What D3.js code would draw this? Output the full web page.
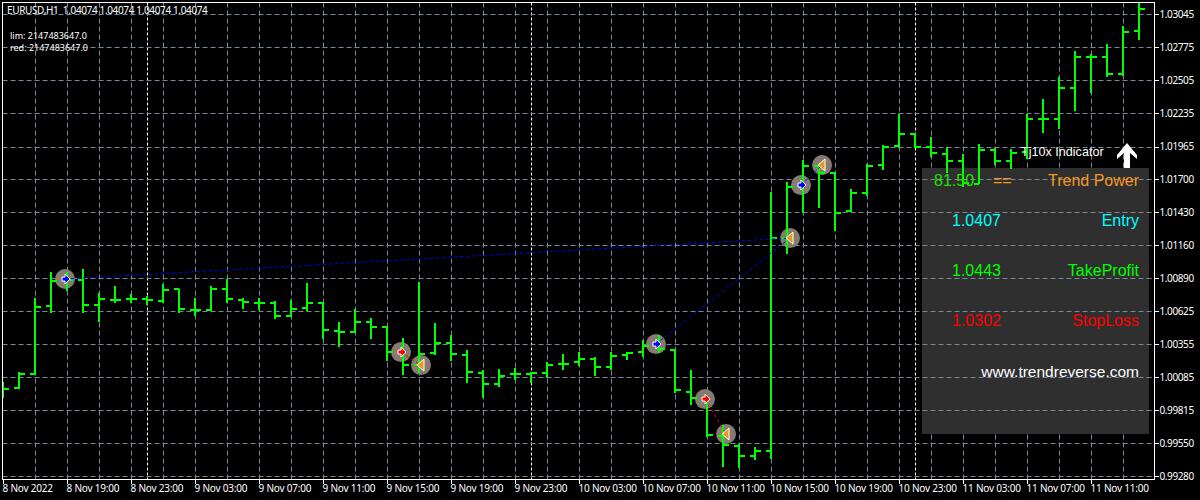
<!DOCTYPE html>
<html>
<head>
<meta charset="utf-8">
<script src="https://cdn.jsdelivr.net/npm/d3@7"></script>
<style>
  html, body { margin: 0; padding: 0; background: #000; }
  svg { display: block; }
  text { font-family: 'Noto Sans', sans-serif; font-size: 10px; fill: #fff; }
  .panel-text { font-family: 'Liberation Sans', Arial, sans-serif; font-size: 16px; }
</style>
</head>
<body>
<div id="chart"></div>
<script>
const opens = [0.99997,0.99997,1.00111,1.00665,1.00877,1.00877,1.00673,1.00714,1.00722,1.00722,1.00706,1.00804,1.00632,1.00632,1.00804,1.00714,1.0069,1.0069,1.00584,1.00649,1.0069,1.00461,1.00453,1.00535,1.00494,1.0029,1.00184,1.00282,1.00364,1.00266,1.00119,1.00029,1.00111,1.00111,1.00119,1.00192,1.00209,1.00233,1.00168,1.00266,1.0029,1.00347,1.00306,0.99964,0.99907,0.99606,0.99524,0.99443,0.99483,1.01219,1.01635,1.01806,1.01749,1.01439,1.01586,1.01814,1.01969,1.02067,1.01961,1.01904,1.01847,1.01659,1.01936,1.01847,1.0192,1.02189,1.02189,1.02442,1.02694,1.02694,1.02556,1.02906];
const highs = [1.00046,1.00127,1.0073,1.00942,1.00942,1.00967,1.00771,1.00828,1.00763,1.00747,1.00844,1.00804,1.0073,1.00828,1.00885,1.0073,1.0073,1.00706,1.00714,1.00853,1.00698,1.00535,1.00641,1.00567,1.00494,1.00404,1.00861,1.00527,1.00429,1.00306,1.00143,1.00152,1.0016,1.00127,1.00209,1.00274,1.0029,1.00249,1.0029,1.0029,1.00388,1.00429,1.00315,1.00143,0.99907,0.99695,0.9954,0.99516,1.01594,1.01676,1.01855,1.01814,1.01749,1.01619,1.01822,1.01977,1.0223,1.02075,1.02042,1.01961,1.01904,1.01985,1.01953,1.01945,1.0223,1.02352,1.02531,1.02743,1.02719,1.028,1.02947,1.03135];
const lows = [0.99915,0.99989,1.00103,1.00608,1.00787,1.00608,1.00535,1.0069,1.0069,1.00673,1.0069,1.00608,1.00584,1.00624,1.0069,1.00641,1.00632,1.00559,1.00575,1.00624,1.00396,1.00331,1.00445,1.00396,1.00217,1.00103,1.00119,1.00266,1.00217,1.00038,0.99915,1.00005,1.00062,1.00038,1.00078,1.00143,1.00176,1.00095,1.00143,1.00225,1.00249,1.00282,0.99956,0.99858,0.99597,0.99353,0.99345,0.9941,0.99418,1.01089,1.01423,1.01464,1.01276,1.01431,1.01562,1.01773,1.01953,1.01953,1.01879,1.01749,1.01635,1.01659,1.01814,1.01782,1.01863,1.02075,1.02108,1.02254,1.02401,1.02531,1.0254,1.02833];
const closes = [0.99989,1.00111,1.00657,1.00869,1.00877,1.00673,1.00722,1.00714,1.00722,1.00714,1.00795,1.00641,1.00632,1.00804,1.00722,1.00698,1.0069,1.00584,1.00641,1.0069,1.00469,1.00453,1.00535,1.00494,1.0029,1.00184,1.00274,1.00364,1.00274,1.00127,1.00029,1.00095,1.00111,1.00119,1.00184,1.00192,1.00233,1.00168,1.00258,1.00282,1.00339,1.00315,0.9998,0.99915,0.99614,0.99532,0.99443,0.99483,1.01219,1.01635,1.01806,1.01749,1.01423,1.01586,1.01806,1.01961,1.02067,1.01961,1.01912,1.01847,1.01668,1.01936,1.01847,1.01912,1.02189,1.02189,1.02442,1.02694,1.02694,1.02556,1.02898,1.03086];

const priceTicks = [1.03045,1.02775,1.02505,1.02235,1.01965,1.017,1.0143,1.0116,1.0089,1.00625,1.00355,1.00085,0.99815,0.9955,0.9928];
const timeTicks = [0,4,8,12,16,20,24,28,32,36,40,44,48,52,56,60,64,68];
const timeLabels = ['8 Nov 2022','8 Nov 19:00','8 Nov 23:00','9 Nov 03:00','9 Nov 07:00','9 Nov 11:00','9 Nov 15:00','9 Nov 19:00','9 Nov 23:00','10 Nov 03:00','10 Nov 07:00','10 Nov 11:00','10 Nov 15:00','10 Nov 19:00','10 Nov 23:00','11 Nov 03:00','11 Nov 07:00','11 Nov 11:00'];
const gridBars = d3.range(2, 72, 2);
const daySeparators = [9, 33, 57];

// signal positions, bar index (fractional, the arrows sit a bit off the bars) and price
const buyBars = [3.875, 40.81, 49.875];
const buyPrices = [1.00885, 1.00355, 1.01651];
const sellBars = [24.875, 43.875];
const sellPrices = [1.0029, 0.99907];
const exitBars = [26.125, 45.19, 49.19, 51.19];
const exitPrices = [1.00184, 0.99622, 1.01219, 1.01814];
// which exit closes which entry
const buyExits = [2, 2, 3];
const sellExits = [0, 1];

const headerLines = ['EURUSD,H1  1.04074 1.04074 1.04074 1.04074', 'lim: 2147483647.0', 'red: 2147483647.0'];
const panelLeft = ['81.50', '1.0407', '1.0443', '1.0302'];
const panelRight = ['Trend Power', 'Entry', 'TakeProfit', 'StopLoss'];
const panelColors = ['#f5961e', '#00ffff', '#00ff00', '#ff0000'];

const width = 1200, height = 500;
const frame = { left: 2.5, right: 1154.5, top: 2.5, bottom: 479.5 };

const x = d3.scaleLinear().domain([0, 71]).range([3, 1139]);
const y = d3.scaleLinear().domain([0.9928, 1.03045]).range([476, 14]);

const svg = d3.select('#chart').append('svg').attr('width', width).attr('height', height);
svg.append('rect').attr('width', width).attr('height', height).attr('fill', '#000');

const px = (v) => Math.round(v) + 0.5;

// vertical grid sits under the panel, the horizontal one over it
svg.append('g').selectAll('line').data(gridBars).enter().append('line')
  .attr('x1', (d) => px(x(d))).attr('x2', (d) => px(x(d)))
  .attr('y1', frame.top).attr('y2', frame.bottom)
  .attr('stroke', '#778899').attr('stroke-dasharray', '5,3');

svg.append('g').selectAll('line').data(daySeparators).enter().append('line')
  .attr('x1', (d) => px(x(d))).attr('x2', (d) => px(x(d)))
  .attr('y1', frame.top).attr('y2', frame.bottom)
  .attr('stroke', '#fff').attr('stroke-dasharray', '3,2');

svg.append('rect').attr('x', 922).attr('y', 168).attr('width', 227).attr('height', 266).attr('fill', '#2f2f2f');

svg.append('g').selectAll('line').data(priceTicks).enter().append('line')
  .attr('x1', frame.left).attr('x2', frame.right)
  .attr('y1', (d) => px(y(d))).attr('y2', (d) => px(y(d)))
  .attr('stroke', '#778899').attr('stroke-dasharray', '5,3');

// grey discs go under the bars, the arrow glyphs over them
const signals = [
  ...buyBars.map((b, i) => ({ bar: b, price: buyPrices[i], type: 'buy' })),
  ...sellBars.map((b, i) => ({ bar: b, price: sellPrices[i], type: 'sell' })),
  ...exitBars.map((b, i) => ({ bar: b, price: exitPrices[i], type: 'exit' })),
];

svg.append('g').selectAll('circle').data(signals).enter().append('circle')
  .attr('cx', (d) => x(d.bar)).attr('cy', (d) => y(d.price)).attr('r', 10)
  .attr('fill', '#857b70');

const bars = svg.append('g').attr('stroke', '#00ff00').attr('stroke-width', 2).attr('shape-rendering', 'crispEdges')
  .selectAll('g').data(d3.range(opens.length)).enter().append('g');
bars.append('line')
  .attr('x1', (i) => x(i)).attr('x2', (i) => x(i))
  .attr('y1', (i) => y(highs[i])).attr('y2', (i) => y(lows[i]));
bars.append('line')
  .attr('x1', (i) => Math.max(x(i) - 5, frame.left)).attr('x2', (i) => x(i))
  .attr('y1', (i) => y(opens[i])).attr('y2', (i) => y(opens[i]));
bars.append('line')
  .attr('x1', (i) => x(i)).attr('x2', (i) => x(i) + 6)
  .attr('y1', (i) => y(closes[i])).attr('y2', (i) => y(closes[i]));

// trade lines
const tradeLines = [
  ...buyBars.map((b, i) => ({ from: [b, buyPrices[i]], to: [exitBars[buyExits[i]], exitPrices[buyExits[i]]], color: '#0000ff' })),
  ...sellBars.map((b, i) => ({ from: [b, sellPrices[i]], to: [exitBars[sellExits[i]], exitPrices[sellExits[i]]], color: '#ff0000' })),
];
svg.append('g').selectAll('line').data(tradeLines).enter().append('line')
  .attr('x1', (d) => x(d.from[0])).attr('y1', (d) => y(d.from[1]))
  .attr('x2', (d) => x(d.to[0])).attr('y2', (d) => y(d.to[1]))
  .attr('stroke', (d) => d.color).attr('stroke-dasharray', '3,3');

const glyphs = svg.append('g').selectAll('g').data(signals).enter().append('g')
  .attr('transform', (d) => 'translate(' + x(d.bar) + ',' + y(d.price) + ')');
glyphs.filter((d) => d.type !== 'exit').append('path')
  .attr('d', 'M-3,-2H0V-5L5,0L0,5V2H-3Z')
  .attr('fill', (d) => (d.type === 'buy' ? '#0000ff' : '#ff0000'))
  .attr('stroke', '#fff').attr('stroke-width', 1);
glyphs.filter((d) => d.type === 'exit').append('path')
  .attr('d', 'M-4,0L3,-6V6Z')
  .attr('fill', '#e8961e').attr('stroke', '#fff').attr('stroke-width', 1);

// frame and axes
svg.append('rect')
  .attr('x', frame.left).attr('y', frame.top)
  .attr('width', frame.right - frame.left).attr('height', frame.bottom - frame.top)
  .attr('fill', 'none').attr('stroke', '#fff');

const yAxis = d3.axisRight(y).tickValues(priceTicks).tickFormat(d3.format('.5f')).tickSize(4).tickPadding(1);
const yAxisG = svg.append('g').attr('transform', 'translate(' + frame.right + ',0)').call(yAxis);
yAxisG.select('.domain').remove();

const xAxis = d3.axisBottom(x).tickValues(timeTicks).tickFormat((d, i) => timeLabels[i]).tickSize(4).tickPadding(1);
const xAxisG = svg.append('g').attr('transform', 'translate(0,' + frame.bottom + ')').call(xAxis);
xAxisG.select('.domain').remove();
xAxisG.selectAll('text').attr('text-anchor', 'start').attr('dx', -1).style('letter-spacing', '-0.2px');
yAxisG.selectAll('text').style('letter-spacing', '-0.4px');
svg.selectAll('.tick line').attr('stroke', '#fff').attr('shape-rendering', 'crispEdges');
svg.selectAll('.tick text').attr('fill', '#fff').style('font-family', "'Noto Sans', sans-serif").style('font-size', '10px');

// header texts
svg.append('text').attr('x', 7).attr('y', 14).style('white-space', 'pre').style('letter-spacing', '-0.36px').text(headerLines[0]);
svg.append('text').attr('x', 10).attr('y', 39).style('font-size', '9px').text(headerLines[1]);
svg.append('text').attr('x', 10).attr('y', 51).style('font-size', '9px').text(headerLines[2]);

// info panel
svg.append('text').attr('class', 'panel-text').attr('x', 1021).attr('y', 156).style('font-size', '12.6px').text('Tj10x Indicator');
svg.append('path').attr('d', 'M1127,143L1137,155V159L1130,153V168H1124V153L1117,159V155Z').attr('fill', '#fff');

const rowY = [186, 226, 276, 326];
const rowX = [934, 952, 952, 952];
svg.append('g').selectAll('text').data(panelLeft).enter().append('text')
  .attr('class', 'panel-text').attr('x', (d, i) => rowX[i]).attr('y', (d, i) => rowY[i])
  .style('fill', (d, i) => (i === 0 ? '#22e000' : panelColors[i])).text((d) => d);
svg.append('g').selectAll('text').data(panelRight).enter().append('text')
  .attr('class', 'panel-text').attr('x', 1139).attr('y', (d, i) => rowY[i]).attr('text-anchor', 'end')
  .style('fill', (d, i) => panelColors[i]).text((d) => d);
svg.append('text').attr('class', 'panel-text').attr('x', 993).attr('y', 186).style('fill', panelColors[0]).text('==');
svg.append('text').attr('class', 'panel-text').attr('x', 1139).attr('y', 377).attr('text-anchor', 'end').style('font-size', '15.5px').text('www.trendreverse.com');
</script>
</body>
</html>
